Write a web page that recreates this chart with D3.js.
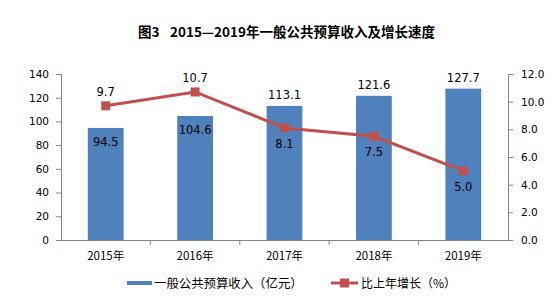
<!DOCTYPE html>
<html>
<head>
<meta charset="utf-8">
<script src="https://cdn.jsdelivr.net/npm/d3@7/dist/d3.min.js"></script>
<style>
body { margin: 0; background: #fff; }
svg text { font-family: "DejaVu Sans", sans-serif; fill: #000; }
.cjk { font-family: "Noto Sans CJK SC", sans-serif; }
</style>
</head>
<body>
<svg id="chart" width="554" height="303"></svg>
<script>
// data
const years = ["2015年", "2016年", "2017年", "2018年", "2019年"];
const revenue = [94.5, 104.6, 113.1, 121.6, 127.7];
const growth = [9.7, 10.7, 8.1, 7.5, 5.0];
const leftTicks = [0, 20, 40, 60, 80, 100, 120, 140];
const rightTicks = [0, 2, 4, 6, 8, 10, 12];
// label placement: inside/outside the bar, above/below the marker
const barLabelSide = ["in", "in", "out", "out", "out"];
const lineLabelSide = ["up", "up", "down", "down", "down"];

const svg = d3.select("#chart");
const margin = {top: 74, right: 46, bottom: 63, left: 61};
const width = +svg.attr("width") - margin.left - margin.right;
const height = +svg.attr("height") - margin.top - margin.bottom;

const barColor = "#4F81BD", lineColor = "#C0504D", axisColor = "#868686";

const g = svg.append("g")
    .attr("transform", `translate(${margin.left},${margin.top})`);

const x = d3.scaleBand().domain(years).range([0, width]).padding(0);
const y = d3.scaleLinear().domain([0, 140]).range([height, 0]);
const y2 = d3.scaleLinear().domain([0, 12]).range([height, 0]);
const barW = x.bandwidth() * 0.4;

// title
svg.append("text")
    .attr("class", "cjk")
    .attr("x", 138).attr("y", 37)
    .style("font-size", "13.5px")
    .style("font-weight", "bold")
    .text("图3");
svg.append("text")
    .attr("class", "cjk")
    .attr("x", 170).attr("y", 37)
    .style("font-size", "13.5px")
    .style("font-weight", "bold")
    .text("2015—2019年一般公共预算收入及增长速度");

// bars
g.selectAll("rect.bar")
    .data(revenue)
    .enter().append("rect")
    .attr("class", "bar")
    .attr("x", (d, i) => x(years[i]) + (x.bandwidth() - barW) / 2)
    .attr("y", d => y(d))
    .attr("width", barW)
    .attr("height", d => height - y(d))
    .attr("fill", barColor);

// axes
const axLeft = g.append("g")
    .call(d3.axisLeft(y).tickValues(leftTicks).tickSize(5).tickPadding(7));
const axRight = g.append("g")
    .attr("transform", `translate(${width},0)`)
    .call(d3.axisRight(y2).tickValues(rightTicks).tickSize(5).tickPadding(8)
        .tickFormat(d3.format(".1f")));
const axBottom = g.append("g")
    .attr("transform", `translate(0,${height})`)
    .call(d3.axisBottom(x).tickSize(0).tickPadding(12));

// category separator ticks on x axis
g.append("g").selectAll("line")
    .data(years.slice(1))
    .enter().append("line")
    .attr("x1", d => x(d)).attr("x2", d => x(d))
    .attr("y1", height).attr("y2", height + 5)
    .attr("stroke", axisColor);

[axLeft, axRight, axBottom].forEach(a => {
    a.selectAll("path, line").attr("stroke", axisColor);
    a.selectAll("text").style("font-size", "10.5px").attr("fill", "#000");
});
axLeft.select(".domain").attr("d", `M0.5,0V${height}`);
axRight.select(".domain").attr("d", `M0.5,0V${height}`);
axBottom.select(".domain").attr("d", `M0,0.5H${width}`);
axBottom.selectAll("text")
    .attr("class", "cjk")
    .style("font-size", "11.5px");

// line
const cx = (i) => x(years[i]) + x.bandwidth() / 2;
const line = d3.line()
    .x((d, i) => cx(i))
    .y(d => y2(d));

g.append("path")
    .datum(growth)
    .attr("d", line)
    .attr("fill", "none")
    .attr("stroke", lineColor)
    .attr("stroke-width", 3);

g.selectAll("rect.mark")
    .data(growth)
    .enter().append("rect")
    .attr("class", "mark")
    .attr("x", (d, i) => cx(i) - 4.5)
    .attr("y", d => y2(d) - 4.5)
    .attr("width", 9).attr("height", 9)
    .attr("fill", lineColor);

// bar labels
g.selectAll("text.barlab")
    .data(revenue)
    .enter().append("text")
    .attr("class", "barlab")
    .attr("x", (d, i) => cx(i))
    .attr("y", (d, i) => barLabelSide[i] == "in" ? y(d) + 18 : y(d) - 7)
    .attr("text-anchor", "middle")
    .style("font-size", "11.5px")
    .text(d => d.toFixed(1));

// line labels
g.selectAll("text.linelab")
    .data(growth)
    .enter().append("text")
    .attr("class", "linelab")
    .attr("x", (d, i) => cx(i))
    .attr("y", (d, i) => lineLabelSide[i] == "up" ? y2(d) - 10 : y2(d) + 20)
    .attr("text-anchor", "middle")
    .style("font-size", "11.5px")
    .text(d => d.toFixed(1));

// legend
const lg = svg.append("g").attr("transform", "translate(0,283)");
lg.append("rect")
    .attr("x", 127).attr("y", -2)
    .attr("width", 25).attr("height", 4)
    .attr("fill", barColor);
lg.append("text")
    .attr("class", "cjk")
    .attr("x", 154).attr("y", 4.5)
    .style("font-size", "12.4px")
    .text("一般公共预算收入（亿元）");
lg.append("line")
    .attr("x1", 331).attr("x2", 358)
    .attr("y1", 0).attr("y2", 0)
    .attr("stroke", lineColor).attr("stroke-width", 3);
lg.append("rect")
    .attr("x", 340).attr("y", -4.5)
    .attr("width", 9).attr("height", 9)
    .attr("fill", lineColor);
lg.append("text")
    .attr("class", "cjk")
    .attr("x", 361).attr("y", 4.5)
    .style("font-size", "12px")
    .text("比上年增长（%）");
</script>
</body>
</html>
